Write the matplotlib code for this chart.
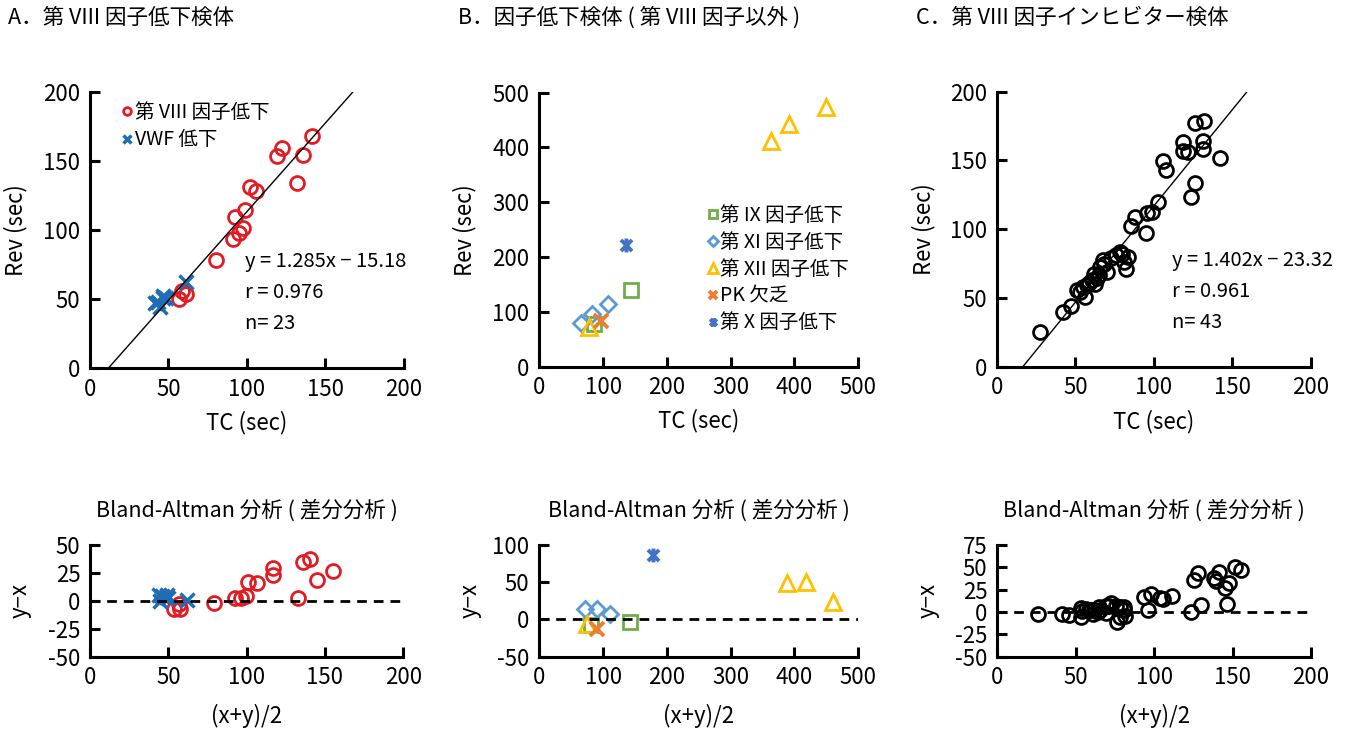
import numpy as np
import matplotlib
matplotlib.use("Agg")
import matplotlib.pyplot as plt
from matplotlib.path import Path

plt.rcParams['font.family'] = ['Noto Sans CJK JP', 'DejaVu Sans']
plt.rcParams['axes.unicode_minus'] = False

# ---- panel A : factor VIII deficiency ----
f8_tc = [141.6, 122.1, 118.9, 135.5, 131.6, 101.9, 105.5, 98.7, 92.4, 97.3, 95.1, 91.3, 80.1, 58.5, 61.0, 57.0]
f8_rev = [168.3, 159.2, 153.6, 154.1, 134.3, 131.4, 128.3, 114.5, 109.2, 101.7, 97.6, 93.5, 78.3, 55.5, 53.5, 50.0]
vwf_tc = [41.4, 43.5, 44.6, 46.7, 46.5, 48.5, 61.2]
vwf_rev = [46.9, 48.0, 44.4, 50.5, 52.0, 51.0, 62.2]
fit_a = (1.285, -15.18)
stats_a = ["y = 1.285x − 15.18", "r = 0.976", "n= 23"]

# ---- panel B : other factor deficiencies ----
f9_tc = [143.7, 85.0]
f9_rev = [140.0, 77.0]
f11_tc = [65.4, 83.0, 107.0]
f11_rev = [79.0, 97.0, 114.0]
f12_tc = [78.4, 363.0, 392.0, 449.0]
f12_rev = [71.9, 412.0, 443.0, 473.0]
pk_tc = [96.2]
pk_rev = [84.0]
f10_tc = [135.4]
f10_rev = [222.0]

# ---- panel C : factor VIII inhibitor ----
inh_tc = [131.9, 126.1, 131.5, 131.5, 118.7, 118.7, 121.9, 142.0, 106.0, 107.5, 126.1, 123.4,
          102.4, 98.6, 95.8, 88.0, 85.2, 95.0,
          27.5, 42.0, 47.3,
          50.9, 53.0, 56.2, 55.0, 57.3, 59.0, 60.7, 62.5, 61.8, 64.0, 64.8, 66.0, 68.0, 70.0,
          67.4, 72.5, 75.9, 78.4, 80.0, 83.7, 82.0, 81.0]
inh_rev = [179.0, 177.0, 164.4, 158.3, 163.6, 157.0, 156.4, 151.5, 149.6, 143.0, 133.8, 123.2,
           120.0, 112.7, 111.5, 108.6, 102.5, 97.0,
           25.0, 40.0, 44.4,
           55.8, 54.5, 50.5, 58.0, 59.4, 61.0, 63.0, 60.0, 67.5, 64.5, 66.7, 72.7, 74.5, 69.0,
           77.6, 79.0, 81.2, 83.6, 82.0, 79.5, 71.0, 76.0]
fit_c = (1.402, -23.32)
stats_c = ["y = 1.402x − 23.32", "r = 0.961", "n= 43"]

titles = ["A．第 VIII 因子低下検体", "B．因子低下検体 ( 第 VIII 因子以外 )", "C．第 VIII 因子インヒビター検体"]
ba_title = "Bland-Altman 分析 ( 差分分析 )"

red = '#e31b23'
blue = '#1f6db5'
green = '#70ad47'
lblue = '#5b9bd5'
gold = '#ffc000'
orange = '#ed7d31'
dblue = '#4472c4'

star = Path([(0, -1), (0, 1), (-0.8, -0.8), (0.8, 0.8), (-0.8, 0.8), (0.8, -0.8)],
            [Path.MOVETO, Path.LINETO, Path.MOVETO, Path.LINETO, Path.MOVETO, Path.LINETO])

FS = 16     # ticks / axis labels
TFS = 15.5  # titles
SFS = 14.5  # regression text


def style(ax):
    for s in ['top', 'right']:
        ax.spines[s].set_visible(False)
    for s in ['left', 'bottom']:
        ax.spines[s].set_linewidth(2.2)
    ax.tick_params(direction='in', length=7, width=2.2, labelsize=FS, pad=7)


def ba(x, y):
    x = np.array(x)
    y = np.array(y)
    return (x + y) / 2, y - x


fig = plt.figure(figsize=(13.57, 7.31), dpi=100)

pos_top = [[0.0663, 0.4966, 0.2314, 0.3776], [0.3974, 0.4984, 0.2351, 0.3748], [0.7345, 0.4984, 0.2316, 0.3762]]
pos_bot = [[0.0663, 0.1016, 0.2309, 0.1528], [0.3974, 0.1016, 0.2351, 0.1528], [0.7349, 0.1016, 0.2312, 0.1528]]
top = [fig.add_axes(p) for p in pos_top]
bot = [fig.add_axes(p) for p in pos_bot]

circ = dict(marker='o', ms=10, mfc='none', mew=2, ls='none')

# A top
ax = top[0]
ax.plot(f8_tc, f8_rev, color=red, label='第 VIII 因子低下', **circ)
ax.plot(vwf_tc, vwf_rev, color=blue, marker='x', ms=10, mew=2.5, ls='none', label='VWF 低下')
m, b = fit_a
ax.plot([-b / m, (200 - b) / m], [0, 200], color='k', lw=1)
ax.set_xlim(0, 200)
ax.set_ylim(0, 200)
ax.set_xticks(np.arange(0, 201, 50))
ax.set_yticks(np.arange(0, 201, 50))
for i, t in enumerate(stats_a):
    ax.text(98.5, 77 - i * 22.5, t, fontsize=SFS, va='center')
ax.legend(loc='upper left', bbox_to_anchor=(0.1, 0.965), frameon=False, fontsize=14,
          markerscale=0.55, handlelength=0.6, handletextpad=0.1, borderaxespad=0, borderpad=0,
          labelspacing=0.35)

# B top
ax = top[1]
ax.plot(f9_tc, f9_rev, color=green, marker='s', ms=10, mfc='none', mew=2, ls='none', label='第 IX 因子低下')
ax.plot(f11_tc, f11_rev, color=lblue, marker='D', ms=8, mfc='none', mew=2, ls='none', label='第 XI 因子低下')
ax.plot(f12_tc, f12_rev, color=gold, marker='^', ms=11, mfc='none', mew=2, ls='none', label='第 XII 因子低下')
ax.plot(pk_tc, pk_rev, color=orange, marker='x', ms=10, mew=2.8, ls='none', label='PK 欠乏')
ax.plot(f10_tc, f10_rev, color=dblue, marker=star, ms=10, mew=2.8, ls='none', label='第 X 因子低下')
ax.set_xlim(0, 500)
ax.set_ylim(0, 500)
ax.set_xticks(np.arange(0, 501, 100))
ax.set_yticks(np.arange(0, 501, 100))
ax.legend(loc='upper left', bbox_to_anchor=(0.525, 0.59), frameon=False, fontsize=14,
          markerscale=0.6, handlelength=0.6, handletextpad=0.1, borderaxespad=0, borderpad=0,
          labelspacing=0.3)

# C top
ax = top[2]
ax.plot(inh_tc, inh_rev, color='k', **circ)
m, b = fit_c
ax.plot([-b / m, (200 - b) / m], [0, 200], color='k', lw=1)
ax.set_xlim(0, 200)
ax.set_ylim(0, 200)
ax.set_xticks(np.arange(0, 201, 50))
ax.set_yticks(np.arange(0, 201, 50))
for i, t in enumerate(stats_c):
    ax.text(111.5, 77 - i * 22.5, t, fontsize=SFS, va='center')

for ax, yc in zip(top, [-0.2, -0.198, -0.196]):
    style(ax)
    ax.set_xlabel('TC (sec)', fontsize=FS)
    ax.set_ylabel('Rev (sec)', fontsize=FS)
    ax.xaxis.set_label_coords(0.5, -0.155)
    ax.yaxis.set_label_coords(yc, 0.5)

# A bottom
ax = bot[0]
mx, dx = ba(f8_tc, f8_rev)
ax.plot(mx, dx, color=red, **circ)
mx, dx = ba(vwf_tc, vwf_rev)
ax.plot(mx, dx, color=blue, marker='x', ms=10, mew=2.5, ls='none')
ax.plot([0, 200], [0, 0], color='k', lw=2, ls=(0, (3.5, 2.5)))
ax.set_xlim(0, 200)
ax.set_ylim(-50, 50)
ax.set_xticks(np.arange(0, 201, 50))
ax.set_yticks(np.arange(-50, 51, 25))

# B bottom
ax = bot[1]
for xs, ys, kw in [(f9_tc, f9_rev, dict(color=green, marker='s', ms=10, mfc='none', mew=2)),
                   (f11_tc, f11_rev, dict(color=lblue, marker='D', ms=8, mfc='none', mew=2)),
                   (f12_tc, f12_rev, dict(color=gold, marker='^', ms=11, mfc='none', mew=2)),
                   (pk_tc, pk_rev, dict(color=orange, marker='x', ms=10, mew=2.8)),
                   (f10_tc, f10_rev, dict(color=dblue, marker=star, ms=10, mew=2.8))]:
    mx, dx = ba(xs, ys)
    ax.plot(mx, dx, ls='none', **kw)
ax.plot([0, 500], [0, 0], color='k', lw=2, ls=(0, (3.5, 2.5)))
ax.set_xlim(0, 500)
ax.set_ylim(-50, 100)
ax.set_xticks(np.arange(0, 501, 100))
ax.set_yticks(np.arange(-50, 101, 50))

# C bottom
ax = bot[2]
mx, dx = ba(inh_tc, inh_rev)
ax.plot(mx, dx, color='k', **circ)
ax.plot([0, 200], [0, 0], color='k', lw=2, ls=(0, (3.5, 2.5)))
ax.set_xlim(0, 200)
ax.set_ylim(-50, 75)
ax.set_xticks(np.arange(0, 201, 50))
ax.set_yticks(np.arange(-50, 76, 25))

for ax, yc in zip(bot, [-0.185, -0.18, -0.183]):
    style(ax)
    ax.set_title(ba_title, fontsize=TFS, pad=20)
    ax.set_xlabel('(x+y)/2', fontsize=FS)
    ax.set_ylabel('y−x', fontsize=FS)
    ax.xaxis.set_label_coords(0.5, -0.42)
    ax.yaxis.set_label_coords(yc, 0.5)

for x, t in zip([8, 458, 916], titles):
    fig.text(x / 1357, 1 - 18 / 731, t, fontsize=TFS, va='center', ha='left')

fig.savefig('out.png', dpi=100)
